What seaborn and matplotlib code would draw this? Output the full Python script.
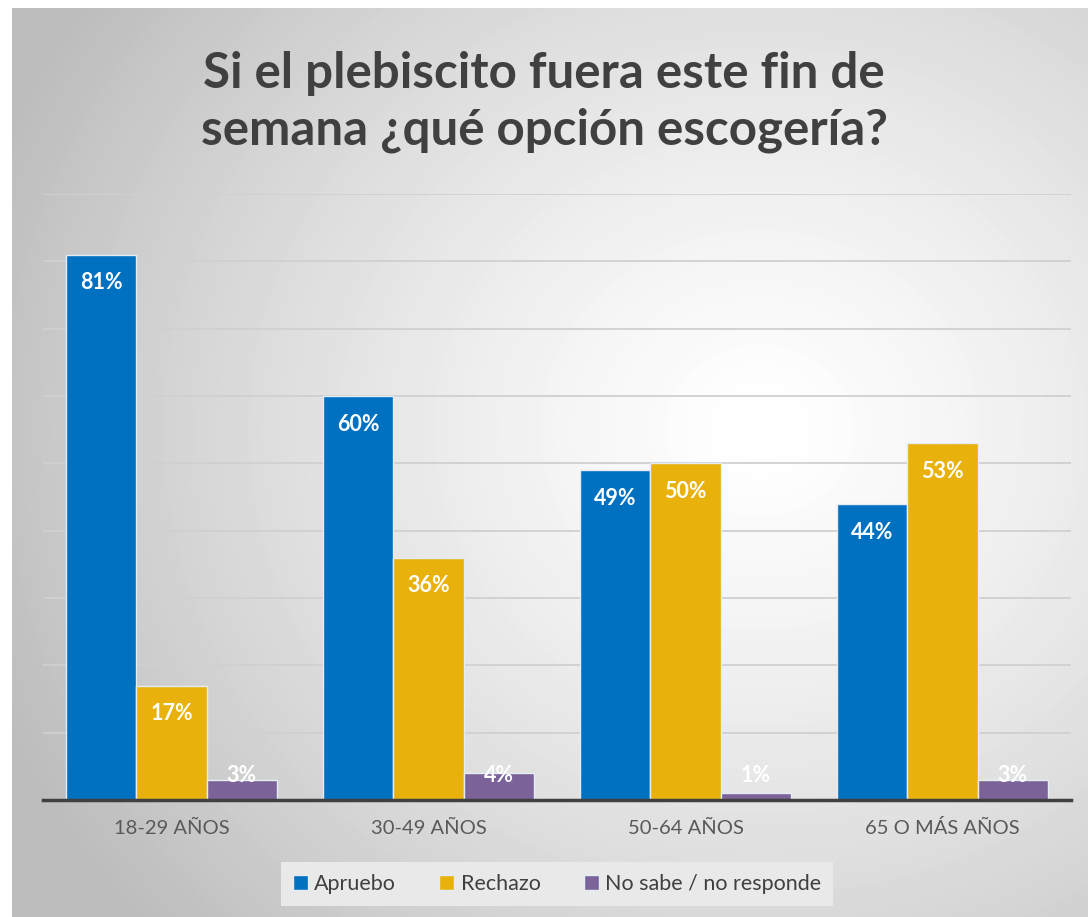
import numpy as np
import pandas as pd
import matplotlib
matplotlib.use("Agg")
import matplotlib.pyplot as plt
import seaborn as sns

# Data
grupos = ['18-29 AÑOS', '30-49 AÑOS', '50-64 AÑOS', '65 O MÁS AÑOS']
opciones = ['Apruebo', 'Rechazo', 'No sabe / no responde']
apruebo = [81, 60, 49, 44]
rechazo = [17, 36, 50, 53]
no_sabe = [3, 4, 1, 3]
colores = ['#0070C0', '#E8B10C', '#7B6399']
titulo = 'Si el plebiscito fuera este fin de\nsemana ¿qué opción escogería?'

df = pd.DataFrame({
    'grupo': grupos * 3,
    'opcion': [o for o in opciones for _ in grupos],
    'valor': apruebo + rechazo + no_sabe,
})

sns.set_theme(style='white')
plt.rcParams['font.family'] = ['Lato', 'DejaVu Sans']

W, H = 1088, 917
fig = plt.figure(figsize=(W / 100, H / 100), dpi=100)
fig.patch.set_facecolor('white')

# radial grey gradient background of the chart area
bg = fig.add_axes([12 / W, 0, 1 - 12 / W, (H - 8) / H], zorder=0)
yy, xx = np.mgrid[8:H, 12:W]
d = np.hypot(xx - 760, (yy - 430) * 1.1)
shade = 1 - 0.26 * np.clip(d / 820, 0, 1) ** 1.3
bg.imshow(shade, cmap='gray', vmin=0, vmax=1, aspect='auto', interpolation='bilinear')
bg.axis('off')

# plot area
ax = fig.add_axes([43 / W, (H - 800) / H, (1071 - 43) / W, (800 - 194) / H], zorder=1)
ax.patch.set_alpha(0)
sns.barplot(data=df, x='grupo', y='valor', hue='opcion', palette=colores,
            saturation=1, width=0.82, gap=0, edgecolor='#e4ecf4', linewidth=1,
            legend=True, ax=ax, zorder=3)

ax.set_ylim(0, 90)
ax.set_yticks(range(0, 91, 10))
ax.set_yticklabels([])
ax.tick_params(axis='y', length=0)
ax.tick_params(axis='x', length=0, labelsize=14.5, labelcolor='#595959', pad=14)
ax.yaxis.grid(True, color='#d0d0d0', linewidth=1.3, zorder=0)
ax.set_axisbelow(True)
ax.set_xlabel('')
ax.set_ylabel('')
for s in ['top', 'right', 'left']:
    ax.spines[s].set_visible(False)
ax.spines['bottom'].set_color('#404040')
ax.spines['bottom'].set_linewidth(2.5)
ax.spines['bottom'].set_zorder(4)
ax.set_xlim(-0.5, 3.5)

# data labels (inside end, white bold)
for cont in ax.containers:
    for bar in cont:
        v = bar.get_height()
        y = max(v - 4.2, 3.6)
        ax.text(bar.get_x() + bar.get_width() / 2, y, f'{v:.0f}%',
                ha='center', va='center', color='white', fontsize=15.5,
                fontweight='bold', zorder=5)

# legend
handles, labels = ax.get_legend_handles_labels()
ax.legend(handles, labels, loc='center', bbox_to_anchor=(557 / W, (H - 884) / H),
          bbox_transform=fig.transFigure, ncol=3, frameon=True, fontsize=15.5,
          handlelength=0.7, handleheight=0.7, handletextpad=0.3, columnspacing=2.0,
          facecolor='#e9e9e9', edgecolor='none', framealpha=1, fancybox=False,
          borderpad=0.55, labelcolor='#404040')

fig.text(0.5, (H - 102) / H, titulo, ha='center', va='center', fontsize=35.5,
         fontweight='bold', color='#404040', linespacing=1.3)

fig.savefig('out.png', dpi=100)
